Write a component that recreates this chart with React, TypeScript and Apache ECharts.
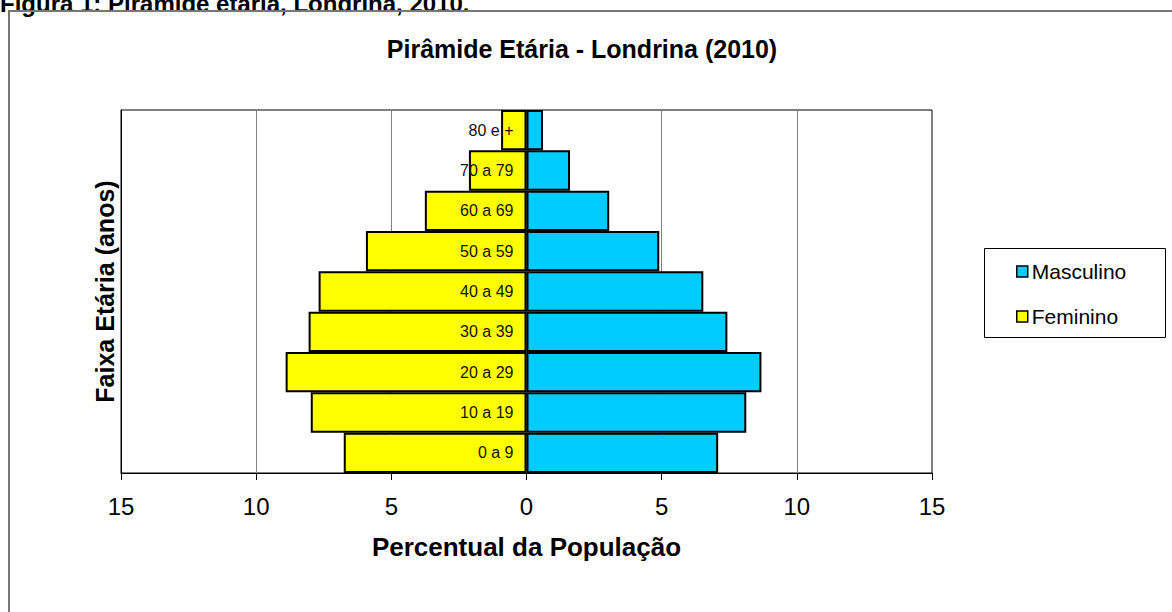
import React, { useEffect, useRef } from "react";
import * as echarts from "echarts";

const categories = ["0 a 9", "10 a 19", "20 a 29", "30 a 39", "40 a 49", "50 a 59", "60 a 69", "70 a 79", "80 e +"];
const masculino = [7.09, 8.13, 8.69, 7.43, 6.54, 4.91, 3.06, 1.61, 0.61];
const feminino = [6.76, 7.98, 8.91, 8.06, 7.69, 5.94, 3.76, 2.13, 0.94];
const xTicks = { min: -15, max: 15, interval: 5 };

const FONT = "Arial, 'Liberation Sans', sans-serif";

export default function App() {
  const ref = useRef<HTMLDivElement>(null);
  useEffect(() => {
    if (!ref.current) return;
    const chart = echarts.init(ref.current, null, { renderer: "svg" });
    chart.setOption({
      animation: false,
      backgroundColor: "#ffffff",
      textStyle: { fontFamily: FONT },
      title: {
        text: "Pirâmide Etária - Londrina (2010)",
        left: 582,
        textAlign: "center",
        top: 36,
        padding: 0,
        textStyle: { fontSize: 25, fontWeight: "bold", color: "#000", fontFamily: FONT },
      },
      grid: {
        left: 121,
        right: 240,
        top: 110,
        bottom: 139,
        show: true,
        borderColor: "#000",
        borderWidth: 1,
        containLabel: false,
      },
      legend: {
        orient: "vertical",
        left: 1011,
        top: 256,
        itemWidth: 11,
        itemHeight: 11,
        itemGap: 24,
        icon: "rect",
        data: ["Masculino", "Feminino"],
        itemStyle: { borderColor: "#000", borderWidth: 1.5 },
        textStyle: { fontSize: 21, color: "#000", fontFamily: FONT, padding: [0, 0, 0, -1] },
      },
      xAxis: {
        type: "value",
        min: xTicks.min,
        max: xTicks.max,
        interval: xTicks.interval,
        name: "Percentual da População",
        nameLocation: "middle",
        nameGap: 61,
        nameTextStyle: { fontSize: 26, fontWeight: "bold", color: "#000", fontFamily: FONT },
        axisLine: { show: true, lineStyle: { color: "#000", width: 1 } },
        axisTick: { show: true, length: 7, lineStyle: { color: "#000" } },
        axisLabel: {
          fontSize: 24,
          color: "#000",
          margin: 21,
          fontFamily: FONT,
          formatter: (v: number) => String(Math.abs(v)),
        },
        splitLine: { show: true, lineStyle: { color: "#808080", width: 1 } },
      },
      yAxis: {
        type: "category",
        data: categories,
        name: "Faixa Etária (anos)",
        nameLocation: "middle",
        nameGap: 4,
        nameRotate: 90,
        nameTextStyle: { fontSize: 25, fontWeight: "bold", color: "#000", fontFamily: FONT },
        axisLine: { show: true, onZero: false, lineStyle: { color: "#000" } },
        axisTick: { show: false },
        axisLabel: { show: false },
        splitLine: { show: false },
      },
      series: [
        {
          name: "Feminino",
          type: "bar",
          stack: "pop",
          barCategoryGap: 0,
          data: feminino.map((v) => -v),
          itemStyle: { color: "#FFFF00", borderColor: "#000", borderWidth: 2 },
          label: {
            show: true,
            position: "insideRight",
            distance: 13,
            formatter: "{b}",
            fontSize: 16,
            color: "#111",
            fontFamily: FONT,
          },
          z: 2,
        },
        {
          name: "Masculino",
          type: "bar",
          stack: "pop",
          barCategoryGap: 0,
          data: masculino,
          itemStyle: { color: "#00CCFF", borderColor: "#000", borderWidth: 2 },
          z: 2,
        },
      ],
      graphic: [
        {
          type: "text",
          left: 0,
          top: -9,
          style: {
            text: "Figura 1: Pirâmide etária, Londrina, 2010.",
            font: "bold 24px Arial, 'Liberation Sans', sans-serif",
            fill: "#000",
          },
          z: 10,
        },
        {
          type: "rect",
          shape: { x: 9, y: 11, width: 1180, height: 620 },
          style: { fill: "none", stroke: "#777", lineWidth: 2 },
          z: 10,
        },
        {
          type: "rect",
          shape: { x: 984.5, y: 248.5, width: 181, height: 89 },
          style: { fill: "none", stroke: "#000", lineWidth: 1 },
          z: 10,
        },
      ],
    });
    return () => chart.dispose();
  }, []);
  return (
    <div
      ref={ref}
      style={{ position: "fixed", left: 0, top: 0, width: 1172, height: 612, background: "#fff" }}
    />
  );
}
